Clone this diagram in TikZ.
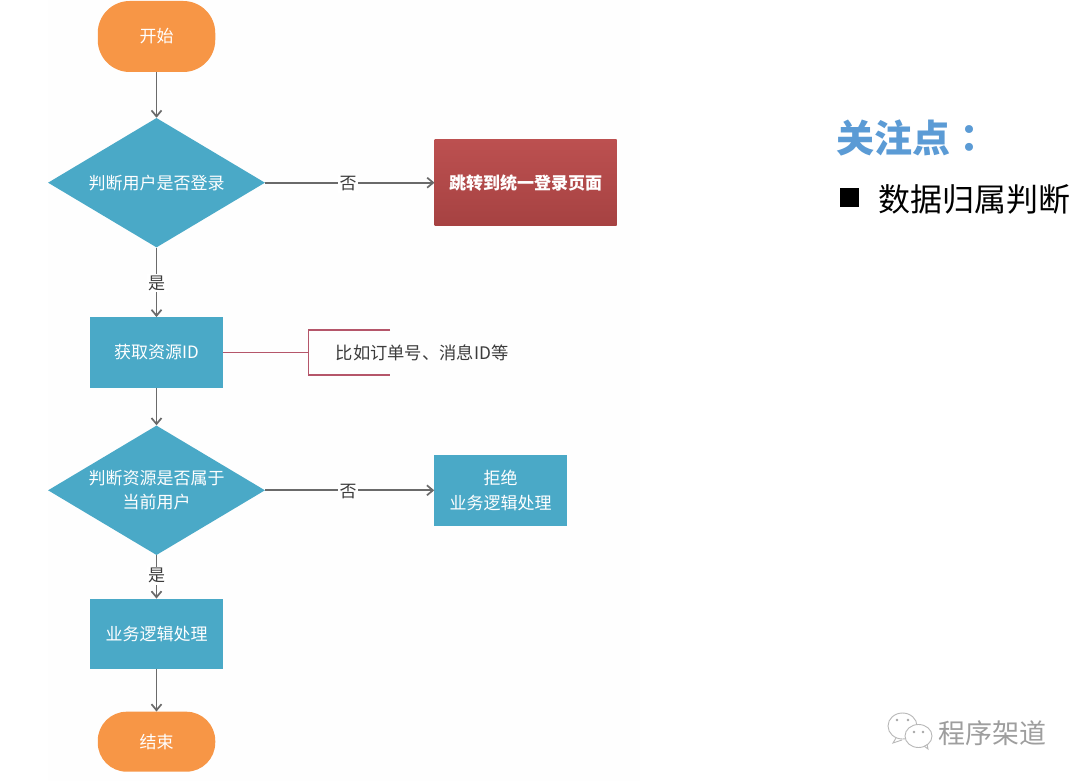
\documentclass[tikz,border=0pt]{standalone}
\usepackage{fontspec}
\setmainfont{Noto Sans CJK SC}
\newfontfamily\tcfont{Noto Sans CJK TC}
\usetikzlibrary{shapes.geometric,arrows.meta}
\definecolor{teal1}{HTML}{4AA9C7}
\definecolor{orange1}{HTML}{F79646}
\definecolor{linec}{HTML}{6A6A6A}
\definecolor{pinkc}{HTML}{B5566A}
\definecolor{redtop}{HTML}{BC5050}
\definecolor{redbot}{HTML}{A64242}
\definecolor{bluet}{HTML}{5B9BD5}
\definecolor{txtc}{HTML}{3C3C3C}
\newcommand\lowered[1]{\raisebox{-1pt}{#1}}
\tikzset{
 x=1pt,y=-1pt,
 term/.style={fill=orange1,text=white,inner sep=0pt,font=\fontsize{17}{20}\selectfont},
 proc/.style={fill=teal1,text=white,font=\fontsize{17}{24.5}\selectfont,align=center,minimum width=132.5pt,minimum height=70.5pt,inner sep=0pt},
 dec/.style={diamond,aspect=1.68,fill=teal1,text=white,font=\fontsize{17}{24.5}\selectfont,align=center,minimum width=217pt,minimum height=129.5pt,inner sep=0pt},
 conn/.style={draw=linec,line width=1.7pt,-{Straight Barb[length=6pt,width=10pt,line width=1.7pt]}},
 lab/.style={fill=white,text=txtc,inner sep=1.5pt,yshift=-1pt,font=\fontsize{17}{20}\selectfont},
 note/.style={draw=pinkc,line width=1.3pt},
}
\begin{document}
\begin{tikzpicture}
\useasboundingbox (0,0) rectangle (1080,781);
\fill[white] (0,0) rectangle (1080,781);
\fill[black!0.4] (48,0) rectangle (640,781);
% terminals
\node[term,rounded corners=32pt,minimum width=117.5pt,minimum height=71pt] (start) at (156.5,36.5) {\lowered{开始}};
\node[term,rounded corners=29pt,minimum width=117.5pt,minimum height=60pt] (end) at (156.5,741.7) {\lowered{结束}};
% decisions
\node[dec] (d1) at (156.5,182.7) {\lowered{判断用户是否登录}};
\node[dec] (d2) at (156.5,490.3) {判断资源是否属于\\当前用户};
% boxes
\node[top color=redtop,bottom color=redbot,minimum width=182pt,minimum height=85.7pt,inner sep=0pt,text=white,font=\bfseries\fontsize{17}{20}\selectfont] (login) at (525.7,182.7) {\lowered{跳转到统一登录页面}};
\node[proc] (res) at (156.5,352.5) {获取资源ID};
\node[proc] (rej) at (500.7,490.3) {拒绝\\业务逻辑处理};
\node[proc] (biz) at (156.5,634) {业务逻辑处理};
% note
\coordinate (nb) at (308.7,352.5);
\coordinate (nt1) at (390,330);
\coordinate (nb1) at (390,375);
\draw[note] (res.east) -- (nb);
\draw[note] (nt1) -- (nt1 -| nb) -- (nb1 -| nb) -- (nb1);
\node[text=txtc,font=\fontsize{17.3}{20}\selectfont,anchor=west,inner sep=0pt] (nt) at (335.5,352.5) {比如订单号、消息ID等};
% connectors
\draw[conn] (start.south) -- (d1.north);
\draw[conn] (d1.east) -- (login.west) node[lab,pos=.49] {否};
\draw[conn] (d1.south) -- (res.north) node[lab,pos=.5] {是};
\draw[conn] (res.south) -- (d2.north);
\draw[conn] (d2.east) -- (rej.west) node[lab,pos=.49] {否};
\draw[conn] (d2.south) -- (biz.north) node[lab,pos=.45] {是};
\draw[conn] (biz.south) -- (end.north);
% right
\node[anchor=west,inner sep=0pt,text=bluet,font=\bfseries\fontsize{38}{42}\selectfont] (t) at (836,138) {关注点{\tcfont ：}};
\fill[black] (840,188) rectangle (859,207);
\node[anchor=west,inner sep=0pt,text=black,font=\fontsize{32}{36}\selectfont] (b) at (878,199) {数据归属判断};
% watermark
\node[anchor=west,inner sep=0pt,text=black!38,font=\fontsize{27}{30}\selectfont] (w) at (938,733) {程序架道};
\draw[black!28,line width=.9pt,fill=white] (902.5,726) ellipse (14.5 and 13);
\draw[black!28,line width=.9pt] (896,738) -- (893,743) -- (902,740);
\draw[black!28,line width=.9pt,fill=white] (918.5,736) ellipse (13.5 and 11.5);
\draw[black!28,line width=.9pt] (924,746) -- (928,749) -- (927,744);
\fill[black!35] (897,720) circle (1.4) (908,720) circle (1.4) (914,732) circle (1.4) (923,732) circle (1.4);
\end{tikzpicture}
\end{document}
